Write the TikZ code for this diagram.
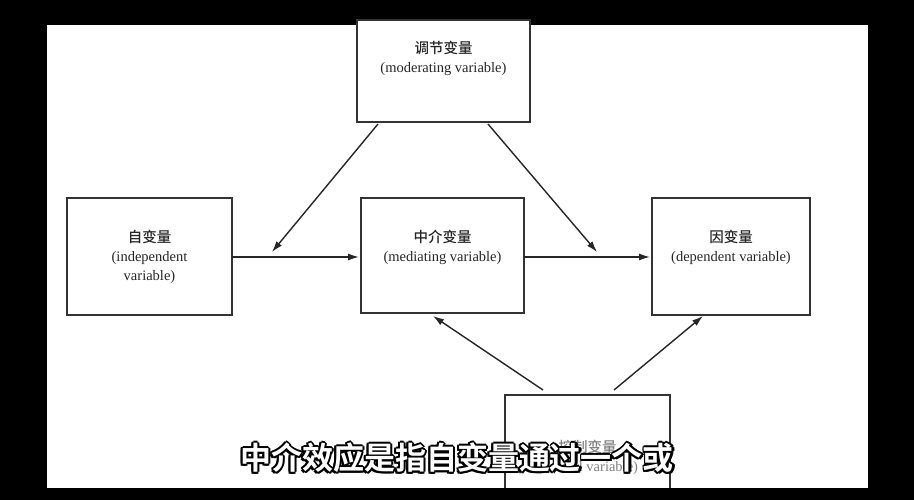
\documentclass[tikz,border=0pt]{standalone}
\usepackage{fontspec}
\usetikzlibrary{arrows.meta}
\setmainfont{Liberation Serif}
\newfontfamily\cjk{Noto Sans CJK SC Medium}
\newfontfamily\cjkb{Noto Sans CJK SC Bold}
\begin{document}
\begin{tikzpicture}[x=1pt,y=-1pt,
  box/.style={draw=black!80,line width=1.4pt,fill=white},
  lbl/.style={align=center,font=\fontsize{14.5}{19}\selectfont,text=black!85},
  arr/.style={-{Latex[length=11pt,width=7pt]},line width=1.4pt,draw=black!85}]
\fill[black] (0,0) rectangle (914,500);
\fill[white] (47,25) rectangle (868,488);
\draw[box] (357,20) rectangle (530,122);
\node[lbl] (mod) at (443.5,58) {{\cjk 调节变量}\\(moderating variable)};
\draw[box] (67,198) rectangle (232,315);
\node[lbl] (ind) at (149.5,257) {{\cjk 自变量}\\(independent\\variable)};
\draw[box] (361,198) rectangle (524,313);
\node[lbl] (med) at (442.5,247) {{\cjk 中介变量}\\(mediating variable)};
\draw[box] (652,198) rectangle (810,315);
\node[lbl] (dep) at (731,247) {{\cjk 因变量}\\(dependent variable)};
\draw[box] (505,395) rectangle (670,492);
\node[lbl,text=black!50] (ctl) at (587.5,457) {{\cjk 控制变量}\\(control variable)};
\fill[black] (0,488) rectangle (914,500);
\coordinate (a1) at (378,124); \coordinate (a2) at (272,252);
\coordinate (b1) at (488,124); \coordinate (b2) at (597,252);
\coordinate (c1) at (543,390); \coordinate (c2) at (433,316);
\coordinate (d1) at (614,390); \coordinate (d2) at (703,316);
\coordinate (e1) at (232,257); \coordinate (e2) at (359,257);
\coordinate (f1) at (524,257); \coordinate (f2) at (650,257);
\draw[arr] (a1) -- (a2);
\draw[arr] (b1) -- (b2);
\draw[arr] (e1) -- (e2);
\draw[arr] (f1) -- (f2);
\draw[arr] (c1) -- (c2);
\draw[arr] (d1) -- (d2);
\foreach \dx/\dy in {-2/0,2/0,0/-2,0/2,-1.5/-1.5,1.5/1.5,-1.5/1.5,1.5/-1.5}
  \node[font=\cjkb\fontsize{31}{31}\selectfont,text=black] at (457+\dx,458+\dy) {中介效应是指自变量通过一个或};
\node[font=\cjkb\fontsize{31}{31}\selectfont,text=white] (sub) at (457,458) {中介效应是指自变量通过一个或};
\end{tikzpicture}
\end{document}
